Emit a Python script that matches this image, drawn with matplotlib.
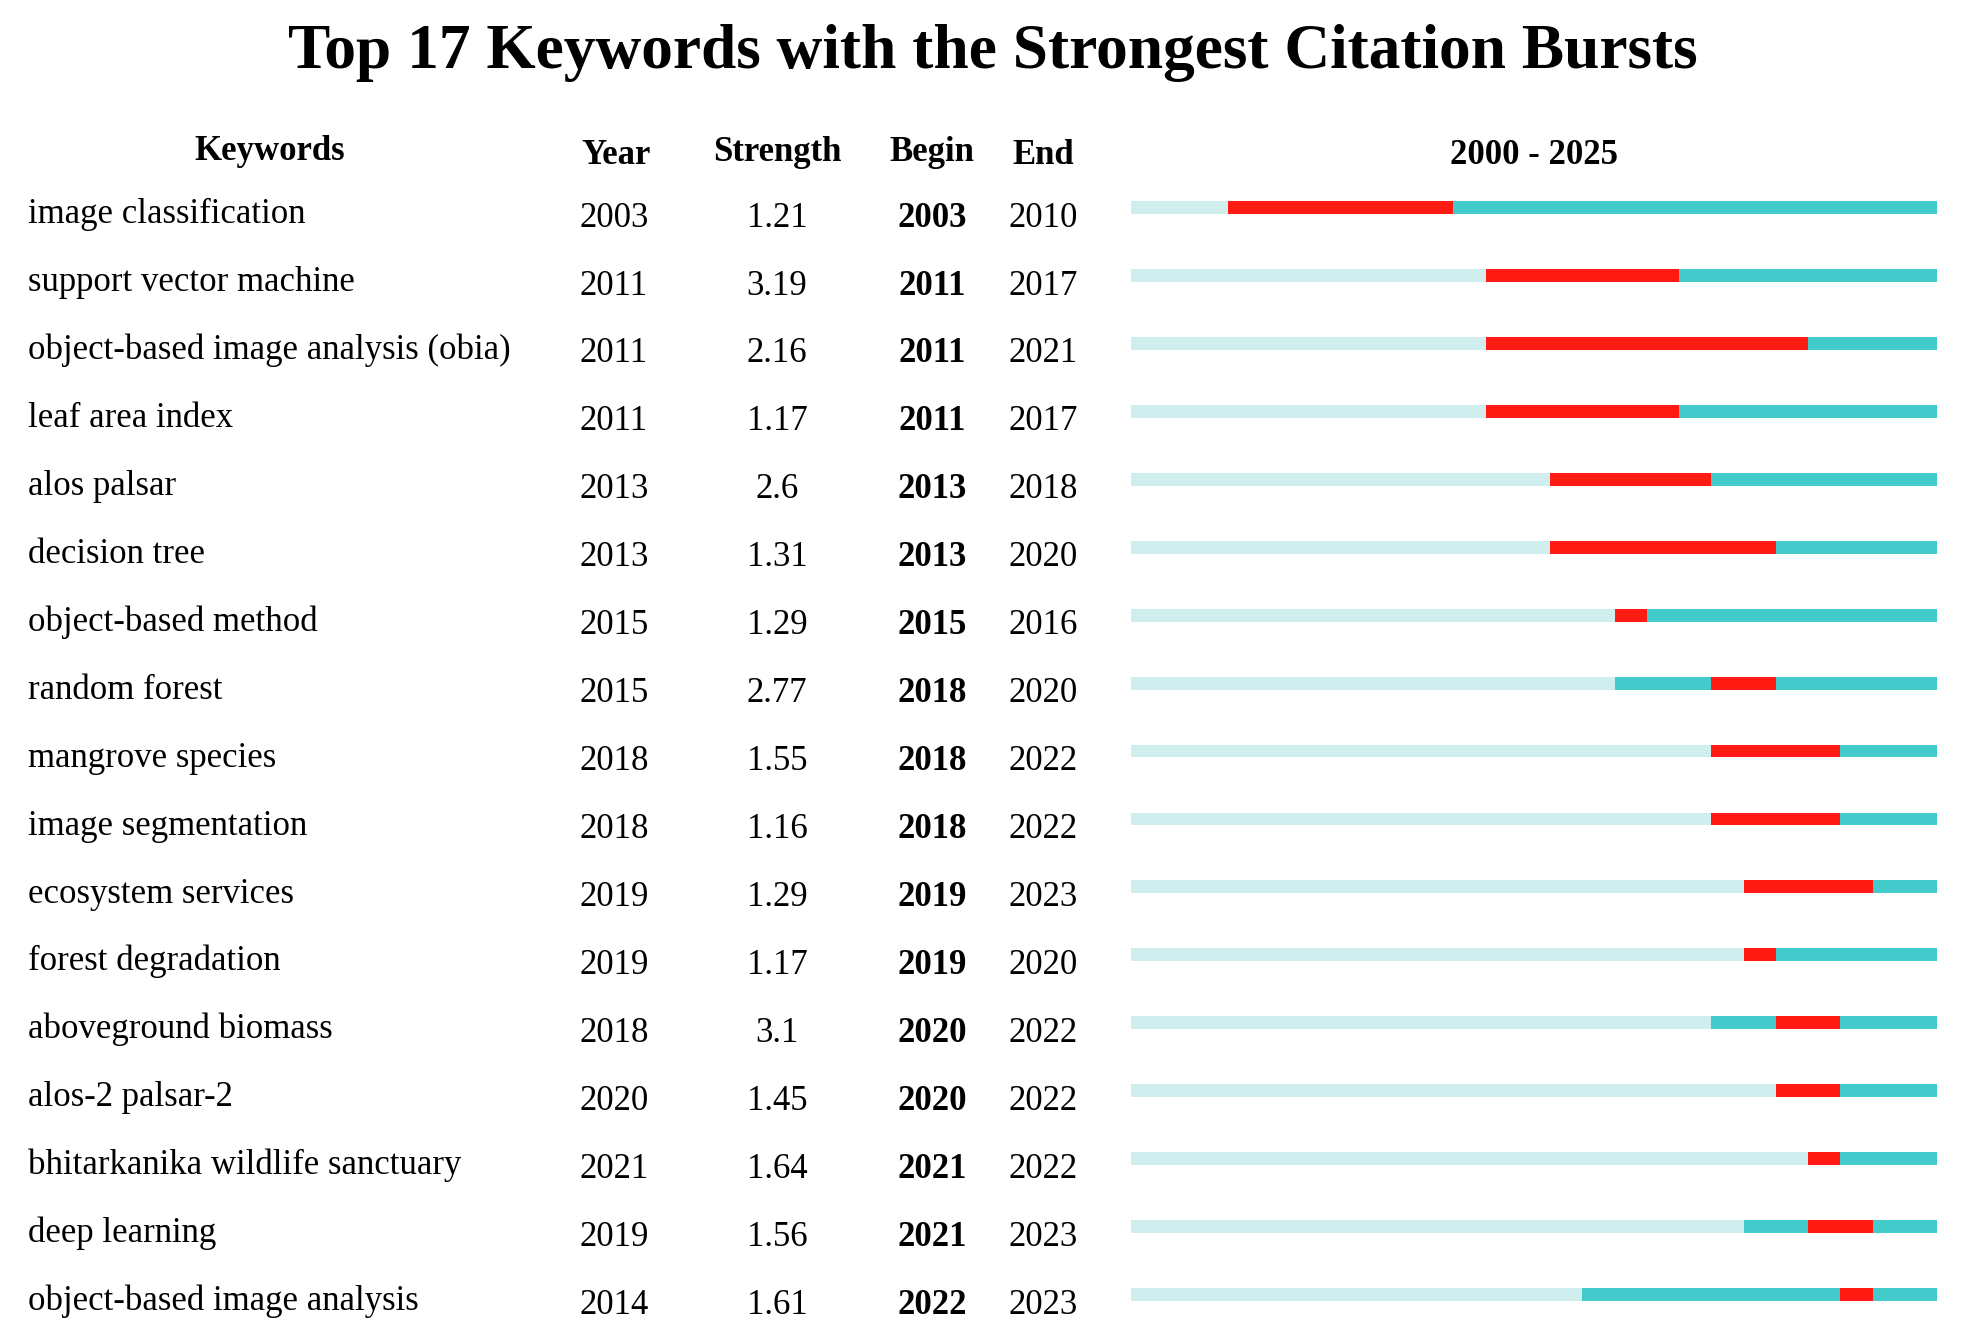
import matplotlib.pyplot as plt
from matplotlib.transforms import blended_transform_factory

plt.rcParams['font.family'] = ['Liberation Serif', 'DejaVu Serif']

keywords = ["image classification", "support vector machine",
            "object-based image analysis (obia)", "leaf area index",
            "alos palsar", "decision tree", "object-based method",
            "random forest", "mangrove species", "image segmentation",
            "ecosystem services", "forest degradation", "aboveground biomass",
            "alos-2 palsar-2", "bhitarkanika wildlife sanctuary",
            "deep learning", "object-based image analysis"]
year = [2003, 2011, 2011, 2011, 2013, 2013, 2015, 2015, 2018, 2018,
        2019, 2019, 2018, 2020, 2021, 2019, 2014]
strength = [1.21, 3.19, 2.16, 1.17, 2.6, 1.31, 1.29, 2.77, 1.55, 1.16,
            1.29, 1.17, 3.1, 1.45, 1.64, 1.56, 1.61]
begin = [2003, 2011, 2011, 2011, 2013, 2013, 2015, 2018, 2018, 2018,
         2019, 2019, 2020, 2020, 2021, 2021, 2022]
end = [2010, 2017, 2021, 2017, 2018, 2020, 2016, 2020, 2022, 2022,
       2023, 2020, 2022, 2022, 2022, 2023, 2023]
start_year, end_year = 2000, 2025

light = '#D1EEEE'
teal = '#42CBCA'
red = '#FF1A12'

W, H = 1962, 1342
fig = plt.figure(figsize=(W / 100, H / 100), dpi=100)

row_h = 67.93
top_px = 207.6 - row_h / 2
bot_px = 207.6 + 16 * row_h + row_h / 2
ax = fig.add_axes([1131 / W, 1 - bot_px / H, 806 / W, (bot_px - top_px) / H])
n = len(keywords)
rows = list(range(n))
bh = 0.19

ax.barh(rows, [y - start_year for y in year], left=start_year, height=bh, color=light, linewidth=0)
ax.barh(rows, [end_year - y for y in year], left=year, height=bh, color=teal, linewidth=0)
ax.barh(rows, [e - b for b, e in zip(begin, end)], left=begin, height=bh, color=red, linewidth=0)
ax.set_xlim(start_year, end_year)
ax.set_ylim(n - 0.5, -0.5)
ax.axis('off')

fs = 25
tr = blended_transform_factory(fig.transFigure, ax.transData)
for i in rows:
    ax.text(28 / W, i + 0.23, keywords[i], transform=tr, fontsize=fs, ha='left', va='baseline')
    ax.text(614 / W, i + 0.28, str(year[i]), transform=tr, fontsize=fs, ha='center', va='baseline')
    ax.text(777 / W, i + 0.28, str(strength[i]), transform=tr, fontsize=fs, ha='center', va='baseline')
    ax.text(932 / W, i + 0.28, str(begin[i]), transform=tr, fontsize=fs, ha='center', va='baseline', fontweight='bold')
    ax.text(1043 / W, i + 0.28, str(end[i]), transform=tr, fontsize=fs, ha='center', va='baseline')

# headers
hdr = dict(fontsize=fs, fontweight='bold', ha='center', va='baseline')
fig.text(270 / W, 1 - 160.5 / H, "Keywords", **hdr)
fig.text(616 / W, 1 - 164.3 / H, "Year", **hdr)
fig.text(777 / W, 1 - 161 / H, "Strength", **hdr)
fig.text(932 / W, 1 - 161 / H, "Begin", **hdr)
fig.text(1043 / W, 1 - 164.3 / H, "End", **hdr)
fig.text(1534 / W, 1 - 164.5 / H, f"{start_year} - {end_year}", **hdr)

fig.text(993 / W, 1 - 68 / H, "Top 17 Keywords with the Strongest Citation Bursts",
         fontsize=45.6, fontweight='bold', ha='center', va='baseline')

fig.savefig('out.png', dpi=100, facecolor='white')
